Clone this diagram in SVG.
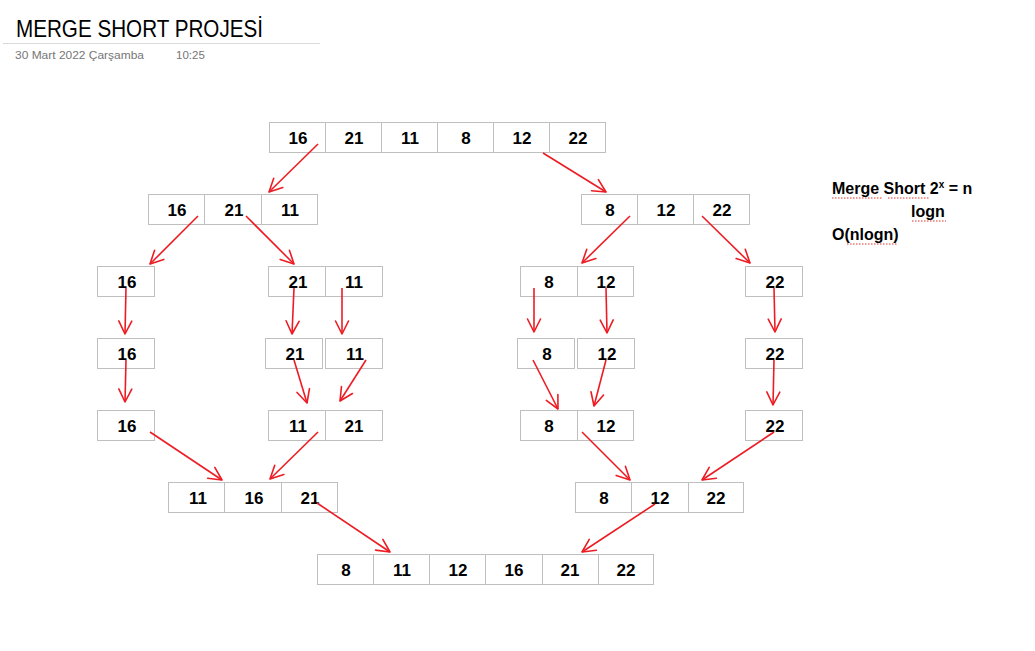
<svg xmlns="http://www.w3.org/2000/svg" width="1035" height="651" viewBox="0 0 1035 651">
<defs>
<style>
.c{fill:#fff;stroke:#bfbfbf;stroke-width:1}
.n{font-family:"Liberation Sans",Arial,sans-serif;font-weight:bold;font-size:17px;fill:#000;text-anchor:middle}
.a{stroke:#ed1c24;stroke-width:1.6;fill:none;marker-end:url(#ah)}
.sq{stroke:#e0302a;stroke-width:1;fill:none;stroke-dasharray:1.5,1.5}
.side{font-family:"Liberation Sans",Arial,sans-serif;font-weight:bold;font-size:16px;fill:#000}
</style>
<marker id="ah" markerUnits="userSpaceOnUse" markerWidth="16" markerHeight="16" viewBox="-1 -1 16 16" refX="13" refY="6.5" orient="auto" overflow="visible">
<path d="M0,0 L13,6.5 L0,13" fill="none" stroke="#ed1c24" stroke-width="1.6" stroke-linecap="round" stroke-linejoin="round"/>
</marker>
</defs>
<rect width="1035" height="651" fill="#fff"/>
<g id="header">
<text x="16" y="37" font-family="Liberation Sans,Arial,sans-serif" font-size="24" fill="#000" textLength="247" lengthAdjust="spacingAndGlyphs">MERGE SHORT PROJESİ</text>
<line x1="3" y1="43.5" x2="320" y2="43.5" stroke="#d9d9d9" stroke-width="1"/>
<text x="15" y="59" font-family="Liberation Sans,Arial,sans-serif" font-size="11.5" fill="#767676" textLength="129" lengthAdjust="spacingAndGlyphs">30 Mart 2022 Çarşamba</text>
<text x="176" y="59" font-family="Liberation Sans,Arial,sans-serif" font-size="11.5" fill="#767676">10:25</text>
</g>
<g id="note">
<text class="side" x="832" y="194">Merge Short 2<tspan font-size="10" dy="-6">x</tspan><tspan dy="6"> = n</tspan></text>
<text class="side" x="911" y="217">logn</text>
<text class="side" x="832" y="240">O(nlogn)</text>
<path class="sq" d="M832,198 L882,198 M888,198 L930,198 M912,221 L946,221 M847,244 L898,244"/>
</g>
<g id="n0">
<rect class="c" x="269.5" y="122.5" width="56" height="30"/><rect class="c" x="325.5" y="122.5" width="56" height="30"/><rect class="c" x="381.5" y="122.5" width="56" height="30"/><rect class="c" x="437.5" y="122.5" width="56" height="30"/><rect class="c" x="493.5" y="122.5" width="56" height="30"/><rect class="c" x="549.5" y="122.5" width="56" height="30"/>
<text class="n" x="298" y="144">16</text><text class="n" x="354" y="144">21</text><text class="n" x="410" y="144">11</text><text class="n" x="466" y="144">8</text><text class="n" x="522" y="144">12</text><text class="n" x="578" y="144">22</text>
</g>
<g id="n1">
<rect class="c" x="148.5" y="194.5" width="56" height="30"/><rect class="c" x="204.5" y="194.5" width="57" height="30"/><rect class="c" x="261.5" y="194.5" width="56" height="30"/>
<text class="n" x="177" y="216">16</text><text class="n" x="234" y="216">21</text><text class="n" x="290" y="216">11</text>
</g>
<g id="n2">
<rect class="c" x="581.5" y="194.5" width="56" height="30"/><rect class="c" x="637.5" y="194.5" width="56" height="30"/><rect class="c" x="693.5" y="194.5" width="56" height="30"/>
<text class="n" x="610" y="216">8</text><text class="n" x="666" y="216">12</text><text class="n" x="722" y="216">22</text>
</g>
<g id="n3">
<rect class="c" x="97.5" y="266.5" width="57" height="30"/>
<text class="n" x="127" y="288">16</text>
</g>
<g id="n4">
<rect class="c" x="268.5" y="266.5" width="57" height="30"/><rect class="c" x="325.5" y="266.5" width="57" height="30"/>
<text class="n" x="298" y="288">21</text><text class="n" x="354" y="288">11</text>
</g>
<g id="n5">
<rect class="c" x="520.5" y="266.5" width="57" height="30"/><rect class="c" x="577.5" y="266.5" width="56" height="30"/>
<text class="n" x="549" y="288">8</text><text class="n" x="606" y="288">12</text>
</g>
<g id="n6">
<rect class="c" x="745.5" y="266.5" width="57" height="30"/>
<text class="n" x="775" y="288">22</text>
</g>
<g id="n7">
<rect class="c" x="97.5" y="338.5" width="57" height="30"/>
<text class="n" x="127" y="360">16</text>
</g>
<g id="n8">
<rect class="c" x="265.5" y="338.5" width="57" height="30"/>
<text class="n" x="295" y="360">21</text>
</g>
<g id="n9">
<rect class="c" x="325.5" y="338.5" width="57" height="30"/>
<text class="n" x="355" y="360">11</text>
</g>
<g id="n10">
<rect class="c" x="517.5" y="338.5" width="57" height="30"/>
<text class="n" x="547" y="360">8</text>
</g>
<g id="n11">
<rect class="c" x="577.5" y="338.5" width="57" height="30"/>
<text class="n" x="607" y="360">12</text>
</g>
<g id="n12">
<rect class="c" x="745.5" y="338.5" width="57" height="30"/>
<text class="n" x="775" y="360">22</text>
</g>
<g id="n13">
<rect class="c" x="97.5" y="410.5" width="57" height="30"/>
<text class="n" x="127" y="432">16</text>
</g>
<g id="n14">
<rect class="c" x="268.5" y="410.5" width="57" height="30"/><rect class="c" x="325.5" y="410.5" width="57" height="30"/>
<text class="n" x="298" y="432">11</text><text class="n" x="354" y="432">21</text>
</g>
<g id="n15">
<rect class="c" x="520.5" y="410.5" width="57" height="30"/><rect class="c" x="577.5" y="410.5" width="56" height="30"/>
<text class="n" x="549" y="432">8</text><text class="n" x="606" y="432">12</text>
</g>
<g id="n16">
<rect class="c" x="745.5" y="410.5" width="57" height="30"/>
<text class="n" x="775" y="432">22</text>
</g>
<g id="n17">
<rect class="c" x="168.5" y="482.5" width="56" height="30"/><rect class="c" x="224.5" y="482.5" width="57" height="30"/><rect class="c" x="281.5" y="482.5" width="56" height="30"/>
<text class="n" x="198" y="504">11</text><text class="n" x="254" y="504">16</text><text class="n" x="310" y="504">21</text>
</g>
<g id="n18">
<rect class="c" x="575.5" y="482.5" width="56" height="30"/><rect class="c" x="631.5" y="482.5" width="57" height="30"/><rect class="c" x="688.5" y="482.5" width="55" height="30"/>
<text class="n" x="604" y="504">8</text><text class="n" x="660" y="504">12</text><text class="n" x="716" y="504">22</text>
</g>
<g id="n19">
<rect class="c" x="317.5" y="554.5" width="56" height="30"/><rect class="c" x="373.5" y="554.5" width="56" height="30"/><rect class="c" x="429.5" y="554.5" width="56" height="30"/><rect class="c" x="485.5" y="554.5" width="57" height="30"/><rect class="c" x="542.5" y="554.5" width="56" height="30"/><rect class="c" x="598.5" y="554.5" width="55" height="30"/>
<text class="n" x="346" y="576">8</text><text class="n" x="402" y="576">11</text><text class="n" x="458" y="576">12</text><text class="n" x="514" y="576">16</text><text class="n" x="570" y="576">21</text><text class="n" x="626" y="576">22</text>
</g>
<g id="connectors">
<line class="a" x1="318" y1="144" x2="269" y2="192"/>
<line class="a" x1="543" y1="153" x2="606" y2="192"/>
<line class="a" x1="198" y1="216" x2="150" y2="264"/>
<line class="a" x1="246" y1="216" x2="294" y2="264"/>
<line class="a" x1="630" y1="216" x2="582" y2="263"/>
<line class="a" x1="702" y1="216" x2="750" y2="263"/>
<line class="a" x1="126" y1="288" x2="125" y2="334"/>
<line class="a" x1="294" y1="288" x2="292" y2="334"/>
<line class="a" x1="342" y1="288" x2="342" y2="334"/>
<line class="a" x1="126" y1="360" x2="125" y2="402"/>
<line class="a" x1="294" y1="360" x2="307" y2="403"/>
<line class="a" x1="366" y1="360" x2="340" y2="401"/>
<line class="a" x1="150" y1="432" x2="222" y2="480"/>
<line class="a" x1="318" y1="432" x2="270" y2="479"/>
<line class="a" x1="534" y1="288" x2="534" y2="332"/>
<line class="a" x1="606" y1="288" x2="607" y2="333"/>
<line class="a" x1="774" y1="288" x2="775" y2="332"/>
<line class="a" x1="533" y1="360" x2="558" y2="409"/>
<line class="a" x1="606" y1="360" x2="594" y2="406"/>
<line class="a" x1="774" y1="360" x2="773" y2="405"/>
<line class="a" x1="582" y1="432" x2="630" y2="480"/>
<line class="a" x1="774" y1="432" x2="702" y2="480"/>
<line class="a" x1="317" y1="503" x2="390" y2="552"/>
<line class="a" x1="655" y1="504" x2="582" y2="552"/>
</g>
</svg>
